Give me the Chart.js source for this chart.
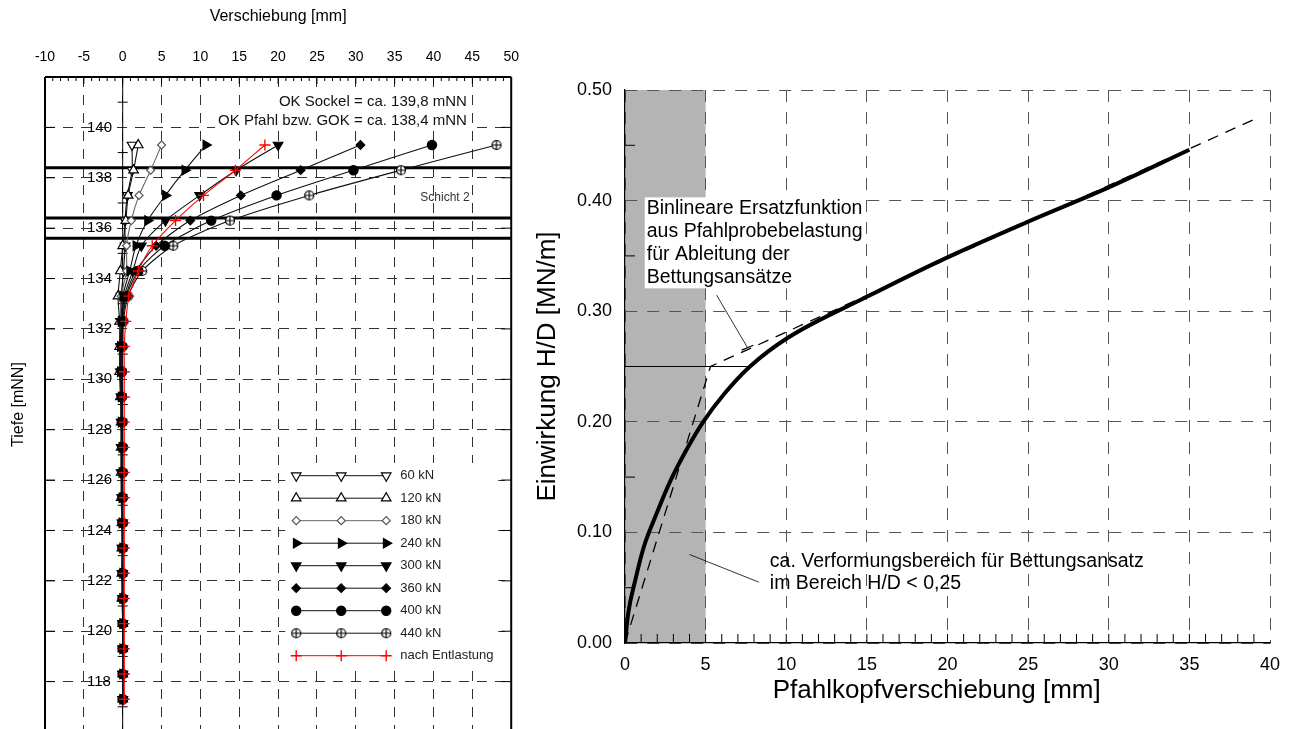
<!DOCTYPE html>
<html>
<head>
<meta charset="utf-8">
<script src="https://cdn.jsdelivr.net/npm/chart.js@4/dist/chart.umd.min.js"></script>
<style>
html, body { margin: 0; padding: 0; background: #fff; width: 1296px; height: 729px; overflow: hidden; }
#left { position: absolute; left: 0; top: 0; width: 530px; height: 783px; }
#right { position: absolute; left: 530px; top: 0; width: 766px; height: 729px; }
</style>
</head>
<body>
<div id="left"><canvas id="c1" width="530" height="783"></canvas></div>
<div id="right"><canvas id="c2" width="766" height="729"></canvas></div>
<script>
// ---- left panel: Biegelinie (depth vs. displacement) ----
const depths = [139.3, 138.3, 137.3, 136.3, 135.3, 134.3, 133.3, 132.3, 131.3, 130.3, 129.3, 128.3,
                127.3, 126.3, 125.3, 124.3, 123.3, 122.3, 121.3, 120.3, 119.3, 118.3, 117.3];
const loadLabels = ['60 kN', '120 kN', '180 kN', '240 kN', '300 kN', '360 kN', '400 kN', '440 kN', 'nach Entlastung'];
const load60  = [1.2, 1.2, 0.6, 0.3, 0.3, 0.1, -0.2, -0.3, -0.3, -0.3, -0.2, -0.2, -0.2, -0.2, -0.1, -0.1, -0.1, -0.1, 0.0, 0.0, 0.0, 0.0, 0.0];
const load120 = [2.0, 1.4, 0.7, 0.4, 0.0, -0.3, -0.6, -0.4, -0.4, -0.4, -0.3, -0.2, -0.2, -0.2, -0.2, -0.1, -0.1, -0.1, -0.1, 0.0, 0.0, 0.0, 0.0];
const load180 = [5.0, 3.6, 2.1, 1.1, 0.5, 0.5, -0.2, -0.3, -0.3, -0.3, -0.2, -0.2, -0.1, -0.1, -0.1, -0.1, -0.1, 0.0, 0.0, 0.0, 0.0, 0.0, 0.0];
const load240 = [10.7, 8.0, 5.5, 3.2, 1.7, 0.9, 0.0, -0.2, -0.3, -0.3, -0.2, -0.2, -0.1, -0.1, -0.1, -0.1, 0.0, 0.0, 0.0, 0.0, 0.0, 0.0, 0.0];
const load300 = [20.0, 14.6, 9.9, 5.5, 2.4, 1.3, 0.2, -0.1, -0.2, -0.2, -0.2, -0.1, -0.1, -0.1, -0.1, 0.0, 0.0, 0.0, 0.0, 0.0, 0.0, 0.0, 0.0];
const load360 = [30.6, 22.9, 15.2, 8.7, 4.3, 1.7, 0.4, -0.1, -0.2, -0.2, -0.1, -0.1, -0.1, -0.1, 0.0, 0.0, 0.0, 0.0, 0.0, 0.0, 0.0, 0.0, 0.0];
const load400 = [39.8, 29.7, 19.8, 11.4, 5.4, 2.0, 0.5, 0.0, -0.1, -0.1, -0.1, -0.1, 0.0, 0.0, 0.0, 0.0, 0.0, 0.0, 0.0, 0.0, 0.0, 0.0, 0.0];
const load440 = [48.1, 35.8, 24.0, 13.8, 6.5, 2.5, 0.7, 0.1, 0.0, -0.1, -0.1, 0.0, 0.0, 0.0, 0.0, 0.0, 0.0, 0.0, 0.0, 0.0, 0.0, 0.0, 0.0];
const unload  = [18.3, 14.5, 10.4, 6.8, 3.8, 2.0, 0.8, 0.4, 0.2, 0.2, 0.2, 0.2, 0.2, 0.2, 0.2, 0.2, 0.2, 0.2, 0.2, 0.2, 0.2, 0.2, 0.2];
const layerLines = [138.4, 136.4, 135.6];

// ---- right panel: Einwirkung vs. Pfahlkopfverschiebung ----
const curveX = [0, 0.2, 0.64, 1.17, 1.96, 2.83, 3.9, 4.85, 6.2, 7.75, 10.1, 15.0, 19.6, 25.0, 30.0, 35.0];
const curveY = [0, 0.027, 0.057, 0.087, 0.117, 0.147, 0.177, 0.200, 0.226, 0.250, 0.276, 0.313, 0.346, 0.381, 0.412, 0.446];
const bilinX = [0, 5.3, 39.1];
const bilinY = [0, 0.25, 0.474];
const thresholdX = [0, 7.75];
const thresholdY = [0.25, 0.25];
const zoneX = [0, 5];
const zoneY = [0, 0.5];
const leader1X = [5.68, 7.60];
const leader1Y = [0.3146, 0.267];
const leaderBarX = [7.24, 7.96];
const leaderBarY = [0.2648, 0.2692];
const leader2X = [4.0, 8.3];
const leader2Y = [0.080, 0.055];
const note1Lines = ['Binlineare Ersatzfunktion', 'aus Pfahlprobebelastung', 'für Ableitung der', 'Bettungsansätze'];
const note2Lines = ['ca. Verformungsbereich für Bettungsansatz', 'im Bereich H/D < 0,25'];

const FONT = "'Liberation Sans', Arial, sans-serif";
Chart.defaults.font.family = FONT;
Chart.defaults.color = '#000';

function pts(xs, ys) { return xs.map((v, i) => ({ x: v, y: ys[i] })); }
function depthPts(vals) { return vals.map((v, i) => ({ x: v, y: depths[i] })); }
function seg(ctx, x1, y1, x2, y2) { ctx.beginPath(); ctx.moveTo(x1, y1); ctx.lineTo(x2, y2); ctx.stroke(); }

// circle with cross marker
const oplus = (function () {
  const r = 4.5, s = 2 * r + 3;
  const c = document.createElement('canvas');
  c.width = s; c.height = s;
  const g = c.getContext('2d');
  g.fillStyle = '#fff'; g.strokeStyle = '#000'; g.lineWidth = 1.2;
  g.beginPath(); g.arc(s / 2, s / 2, r, 0, 2 * Math.PI); g.fill(); g.stroke();
  g.beginPath(); g.moveTo(s / 2 - r, s / 2); g.lineTo(s / 2 + r, s / 2);
  g.moveTo(s / 2, s / 2 - r); g.lineTo(s / 2, s / 2 + r); g.stroke();
  return c;
})();

// lower order is drawn on top: open markers below, filled ones above, red on top
const leftSets = [
  { data: depthPts(load60), order: 8, pointStyle: 'triangle', pointRotation: 180, pointBackgroundColor: '#fff', pointBorderColor: '#000', borderColor: '#111' },
  { data: depthPts(load120), order: 7, pointStyle: 'triangle', pointRotation: 0, pointBackgroundColor: '#fff', pointBorderColor: '#000', borderColor: '#111' },
  { data: depthPts(load180), order: 6, pointStyle: 'rectRot', pointRadius: 4, pointBackgroundColor: '#fff', pointBorderColor: '#555', borderColor: '#666' },
  { data: depthPts(load240), order: 4, pointStyle: 'triangle', pointRotation: 90, pointBackgroundColor: '#000', pointBorderColor: '#000', borderColor: '#111' },
  { data: depthPts(load300), order: 3, pointStyle: 'triangle', pointRotation: 180, pointBackgroundColor: '#000', pointBorderColor: '#000', borderColor: '#111' },
  { data: depthPts(load360), order: 2, pointStyle: 'rectRot', pointRadius: 4.3, pointBackgroundColor: '#000', pointBorderColor: '#000', borderColor: '#111' },
  { data: depthPts(load400), order: 1, pointStyle: 'circle', pointRadius: 4.6, pointBackgroundColor: '#000', pointBorderColor: '#000', borderColor: '#111' },
  { data: depthPts(load440), order: 5, pointStyle: oplus, pointRadius: 4.6, pointBackgroundColor: '#fff', pointBorderColor: '#000', borderColor: '#111' },
  { data: depthPts(unload), order: 0, pointStyle: 'cross', pointRadius: 5.5, pointBorderWidth: 1.4, pointBackgroundColor: '#f00', pointBorderColor: '#f00', borderColor: '#f00' }
].map((d, i) => Object.assign({ label: loadLabels[i], showLine: true, borderWidth: 1.1, pointRadius: 5.5, pointBorderWidth: 1.2, tension: 0.25 }, d));

const leftDecor = {
  id: 'leftDecor',
  beforeDatasetsDraw(chart) {
    const { ctx, chartArea: a, scales: { x, y } } = chart;
    ctx.save();
    ctx.setLineDash([]);
    ctx.strokeStyle = '#000';
    ctx.lineWidth = 1;
    const x0 = x.getPixelForValue(0);
    seg(ctx, x0, a.top, x0, a.bottom);
    for (let d = 117; d < 142; d += 2) {
      const py = y.getPixelForValue(d);
      seg(ctx, x0 - 5, py, x0 + 5, py);
    }
    for (let v = -9; v < 50; v++) {
      const px = x.getPixelForValue(v);
      seg(ctx, px, a.top, px, a.top + (v % 5 === 0 ? 7 : 4));
    }
    for (let d = 118; d <= 140; d += 2) {
      const py = y.getPixelForValue(d);
      seg(ctx, a.left, py, a.left + 10, py);
    }
    ctx.lineWidth = 3;
    layerLines.forEach(d => {
      const py = y.getPixelForValue(d);
      seg(ctx, a.left, py, a.right, py);
    });
    // level notes
    ctx.font = '15px ' + FONT;
    ctx.textAlign = 'right';
    ctx.textBaseline = 'middle';
    [['OK Sockel = ca. 139,8 mNN', 141.0], ['OK Pfahl bzw. GOK = ca. 138,4 mNN', 140.27]].forEach(([t, d]) => {
      const px = x.getPixelForValue(44.3), py = y.getPixelForValue(d);
      const w = ctx.measureText(t).width;
      ctx.fillStyle = '#fff';
      ctx.fillRect(px - w - 3, py - 9, w + 5, 18);
      ctx.fillStyle = '#111';
      ctx.fillText(t, px, py);
    });
    ctx.font = '12px ' + FONT;
    ctx.textAlign = 'left';
    ctx.fillStyle = '#333';
    ctx.fillText('Schicht 2', x.getPixelForValue(38.3), y.getPixelForValue(137.2));
    ctx.restore();
  },
  afterDatasetsDraw(chart) {
    const { ctx, chartArea: a, scales: { y } } = chart;
    ctx.save();
    ctx.setLineDash([]);
    // legend
    const bx = a.right - 226, by = 463;
    ctx.fillStyle = '#fff';
    ctx.fillRect(bx, by, 213, 206);
    chart.data.datasets.forEach((ds, i) => {
      const yy = 475.7 + i * 22.5;
      const xs = [bx + 11, bx + 56, bx + 101];
      ctx.strokeStyle = ds.borderColor;
      ctx.lineWidth = 1;
      seg(ctx, xs[0], yy, xs[2], yy);
      xs.forEach(px => {
        ctx.fillStyle = ds.pointBackgroundColor;
        ctx.strokeStyle = ds.pointBorderColor;
        ctx.lineWidth = ds.pointBorderWidth;
        Chart.helpers.drawPoint(ctx, { pointStyle: ds.pointStyle, rotation: ds.pointRotation || 0, radius: ds.pointRadius, borderWidth: ds.pointBorderWidth }, px, yy);
      });
      ctx.fillStyle = '#222';
      ctx.font = '13px ' + FONT;
      ctx.textAlign = 'left';
      ctx.textBaseline = 'middle';
      ctx.fillText(ds.label, bx + 115, yy);
    });
    ctx.strokeStyle = '#000';
    ctx.lineWidth = 1;
    for (let d = 118; d <= 140; d += 2) {
      const py = y.getPixelForValue(d);
      seg(ctx, a.right - 10, py, a.right, py);
    }
    // frame
    ctx.lineWidth = 2;
    seg(ctx, a.left, a.top, a.right, a.top);
    seg(ctx, a.left, a.top, a.left, a.bottom + 5);
    seg(ctx, a.right, a.top, a.right, a.bottom + 5);
    ctx.restore();
  }
};

new Chart(document.getElementById('c1'), {
  type: 'scatter',
  data: { datasets: leftSets },
  options: {
    responsive: false,
    animation: false,
    layout: { padding: { left: 0, right: 17, top: 0, bottom: 28 } },
    plugins: { legend: { display: false }, tooltip: { enabled: false } },
    scales: {
      x: {
        type: 'linear', position: 'top', min: -10, max: 50,
        ticks: { stepSize: 5, font: { size: 14 }, padding: 11, color: '#000' },
        grid: { color: '#333', lineWidth: 1, drawTicks: false },
        border: { display: false, dash: [10, 8] },
        title: { display: true, text: 'Verschiebung [mm]', font: { size: 16 }, padding: { top: 7, bottom: 0 }, color: '#000' },
        afterFit(s) { s.height = 77; }
      },
      y: {
        type: 'linear', min: 116, max: 142,
        ticks: { stepSize: 2, mirror: true, padding: 42, font: { size: 15 }, color: '#000',
                 callback: v => (v <= 116 || v >= 142) ? '' : v },
        grid: { color: '#333', lineWidth: 1, drawTicks: false },
        border: { display: false, dash: [10, 8] },
        title: { display: true, text: 'Tiefe [mNN]', font: { size: 16 }, padding: { top: 9, bottom: 0 }, color: '#000' },
        afterFit(s) { s.width = 45; }
      }
    }
  },
  plugins: [leftDecor]
});

const rightDecor = {
  id: 'rightDecor',
  beforeDraw(chart) {
    const { ctx, scales: { x, y } } = chart;
    const x0 = x.getPixelForValue(zoneX[0]), x1 = x.getPixelForValue(zoneX[1]);
    const y0 = y.getPixelForValue(zoneY[0]), y1 = y.getPixelForValue(zoneY[1]);
    ctx.save();
    ctx.fillStyle = '#b4b4b4';
    ctx.fillRect(x0, y1, x1 - x0, y0 - y1);
    ctx.restore();
  },
  beforeDatasetsDraw(chart) {
    const { ctx, scales: { x, y } } = chart;
    ctx.save();
    ctx.font = '19.5px ' + FONT;
    ctx.textAlign = 'left';
    ctx.textBaseline = 'middle';
    const nx = x.getPixelForValue(1.35), ny = y.getPixelForValue(0.393);
    const w = Math.max(...note1Lines.map(t => ctx.measureText(t).width));
    ctx.fillStyle = '#fff';
    ctx.fillRect(nx - 2, ny - 11, w + 4, 23 * (note1Lines.length - 1) + 22);
    ctx.fillStyle = '#000';
    note1Lines.forEach((t, i) => ctx.fillText(t, nx, ny + i * 23));
    const mx = x.getPixelForValue(8.98), my = y.getPixelForValue(0.0737);
    note2Lines.forEach((t, i) => ctx.fillText(t, mx, my + i * 22));
    ctx.restore();
  },
  afterDatasetsDraw(chart) {
    const { ctx, chartArea: a, scales: { x, y } } = chart;
    ctx.save();
    ctx.strokeStyle = '#000';
    ctx.lineWidth = 1;
    for (let v = 1; v < 40; v++) {
      const px = x.getPixelForValue(v);
      seg(ctx, px, a.bottom, px, a.bottom - 9);
    }
    for (let v = 0.05; v < 0.5; v += 0.1) {
      const py = y.getPixelForValue(v);
      seg(ctx, a.left, py, a.left + 10, py);
    }
    ctx.restore();
  }
};

const thin = { showLine: true, borderColor: '#000', borderWidth: 0.8, pointRadius: 0 };
new Chart(document.getElementById('c2'), {
  type: 'scatter',
  data: {
    datasets: [
      { data: pts(curveX, curveY), showLine: true, borderColor: '#000', borderWidth: 4, pointRadius: 0, cubicInterpolationMode: 'monotone' },
      { data: pts(bilinX, bilinY), showLine: true, borderColor: '#000', borderWidth: 1.3, borderDash: [11, 8], pointRadius: 0 },
      Object.assign({ data: pts(thresholdX, thresholdY) }, thin, { borderWidth: 1 }),
      Object.assign({ data: pts(leader1X, leader1Y) }, thin),
      Object.assign({ data: pts(leaderBarX, leaderBarY) }, thin, { borderWidth: 1.2 }),
      Object.assign({ data: pts(leader2X, leader2Y) }, thin)
    ]
  },
  options: {
    responsive: false,
    animation: false,
    layout: { padding: { left: 0, right: 26, top: 90, bottom: 0 } },
    plugins: { legend: { display: false }, tooltip: { enabled: false } },
    scales: {
      x: {
        type: 'linear', min: 0, max: 40,
        ticks: { stepSize: 5, font: { size: 18 }, padding: 11, color: '#000' },
        grid: { color: '#555', lineWidth: 1, drawTicks: false },
        border: { display: true, color: '#000', width: 1.2, dash: [12, 10] },
        title: { display: true, text: 'Pfahlkopfverschiebung [mm]   ', font: { size: 26 }, padding: { top: 0, bottom: 23 }, color: '#000' },
        afterFit(s) { s.height = 86; }
      },
      y: {
        type: 'linear', min: 0, max: 0.5,
        ticks: { stepSize: 0.1, font: { size: 18 }, padding: 13, color: '#000', callback: v => v.toFixed(2) },
        grid: { color: '#555', lineWidth: 1, drawTicks: false },
        border: { display: true, color: '#000', width: 1.2, dash: [12, 10] },
        title: { display: true, text: 'Einwirkung H/D [MN/m]', font: { size: 26 }, padding: { top: 2, bottom: 0 }, color: '#000' },
        afterFit(s) { s.width = 95; }
      }
    }
  },
  plugins: [rightDecor]
});
</script>
</body>
</html>
